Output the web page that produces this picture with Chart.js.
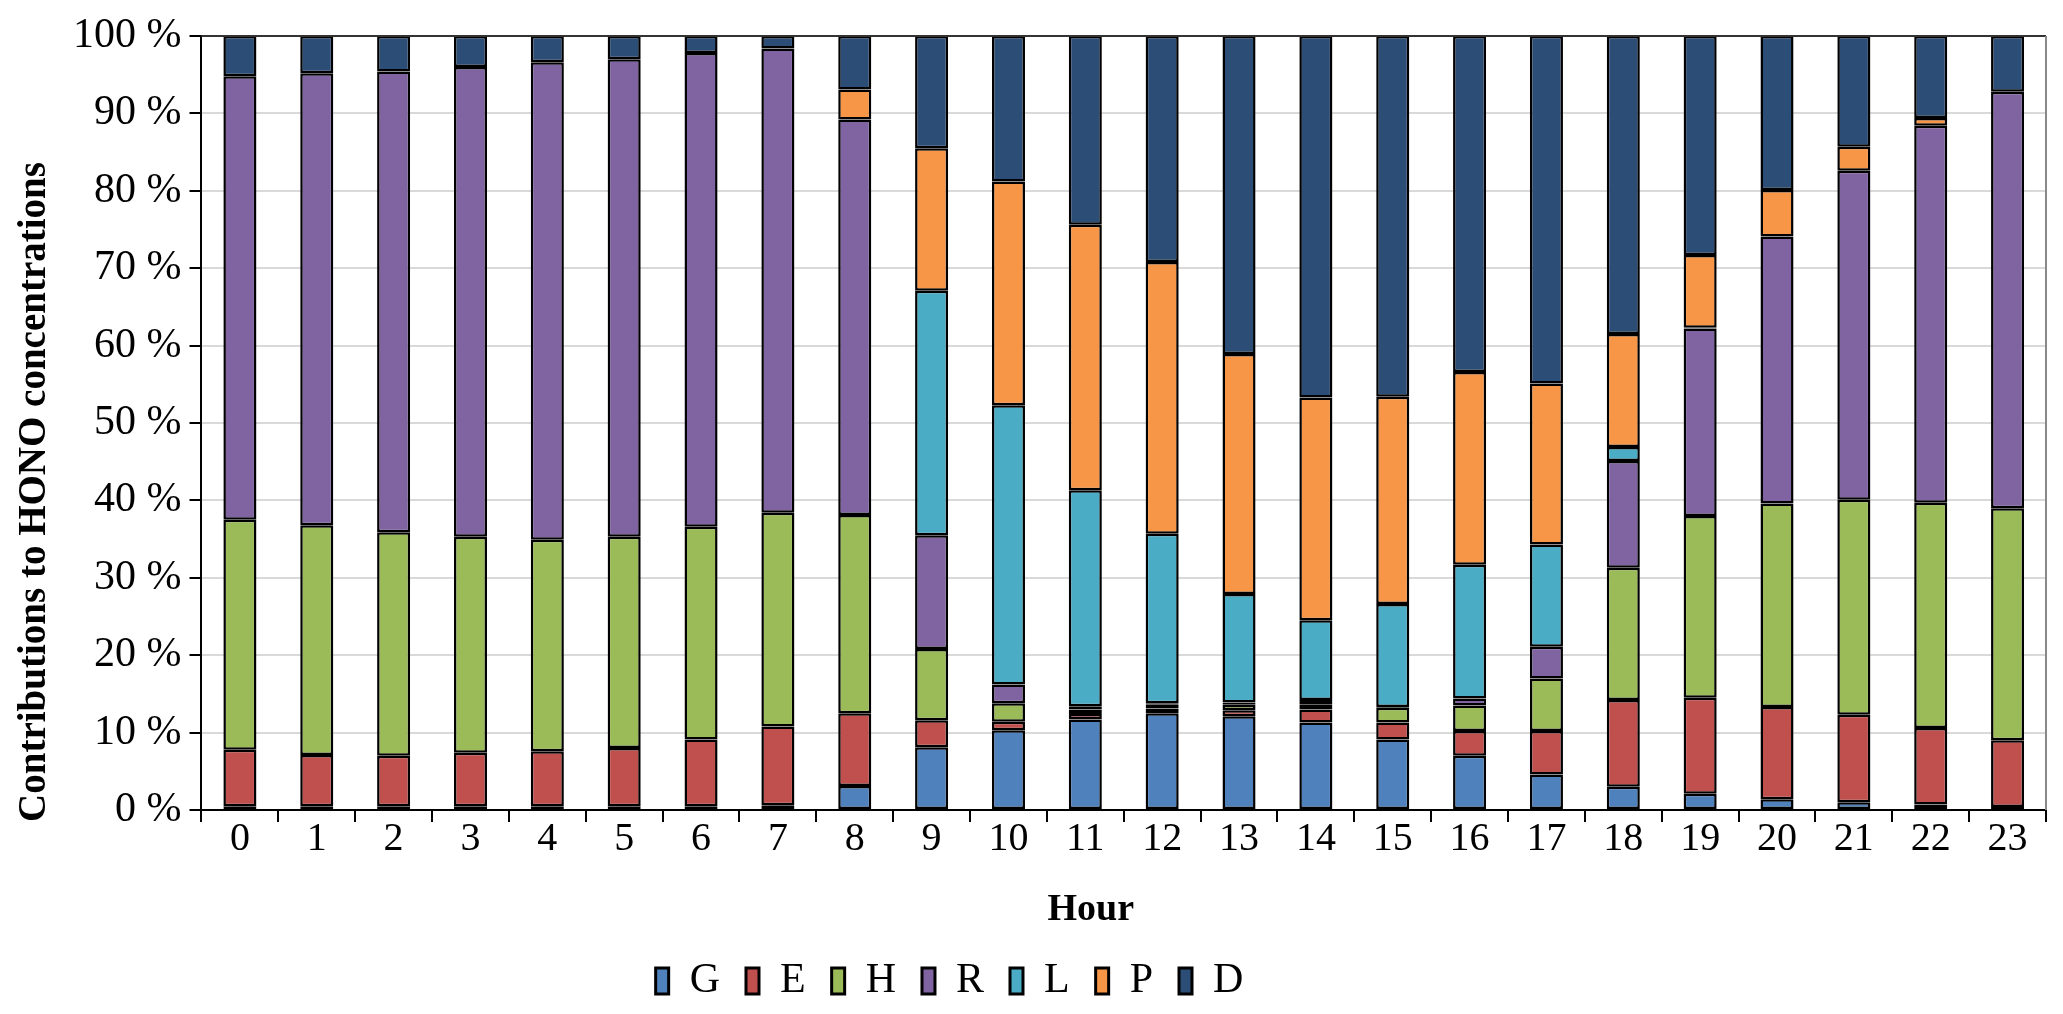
<!DOCTYPE html>
<html>
<head>
<meta charset="utf-8">
<script src="https://cdn.jsdelivr.net/npm/chart.js@4.4.1/dist/chart.umd.min.js"></script>
<style>
html,body{margin:0;padding:0;background:#fff;}
#c{display:block;}
</style>
</head>
<body>
<canvas id="c" width="2063" height="1014" style="width:2063px;height:1014px"></canvas>
<script>
const hours = ['0','1','2','3','4','5','6','7','8','9','10','11','12','13','14','15','16','17','18','19','20','21','22','23'];
const yTicks = [0,10,20,30,40,50,60,70,80,90,100];
const G = [0.5,0.5,0.5,0.5,0.5,0.5,0.5,0.6,3.1,8.1,10.3,11.7,12.5,12.1,11.3,9.1,7.0,4.6,3.0,2.1,1.4,1.0,0.7,0.4];
const E = [7.3,6.6,6.5,6.9,7.1,7.5,8.6,10.2,9.4,3.5,1.1,0.7,0.6,0.8,1.7,2.2,3.2,5.6,11.2,12.4,11.9,11.3,9.9,8.6];
const H = [29.7,29.7,28.9,27.9,27.3,27.3,27.5,27.6,25.6,9.2,2.4,0.6,0.5,0.7,0.6,1.9,3.3,6.8,17.1,23.5,26.3,27.8,29.1,30.0];
const R = [57.3,58.4,59.5,60.7,61.7,61.7,61.2,60.0,51.1,14.7,2.4,0.4,0.2,0.3,0.6,0.1,0.9,4.1,13.8,24.2,34.5,42.5,48.7,53.8];
const L = [0,0,0,0,0,0,0,0,0,31.6,36.1,27.9,21.9,14.0,10.3,13.3,17.3,13.2,1.8,0.1,0,0,0,0];
const P = [0,0,0,0,0,0,0,0,3.9,18.4,28.9,34.3,35.1,31.0,28.8,26.8,24.9,20.8,14.6,9.4,6.0,3.1,1.0,0];
const D = [5.2,4.8,4.6,4.0,3.4,3.0,2.2,1.6,6.9,14.5,18.8,24.4,29.2,41.1,46.7,46.6,43.4,44.9,38.5,28.3,19.9,14.3,10.6,7.2];

const seriesNames = ['G','E','H','R','L','P','D'];
const seriesData = [G,E,H,R,L,P,D];
const colors = ['#4F81BD','#C0504D','#9BBB59','#8064A2','#4BACC6','#F79646','#2C4D75'];
const yTitle = 'Contributions to HONO concentrations';
const xTitle = 'Hour';

const FONT = "'Liberation Serif', 'Times New Roman', serif";

const frame = {
  id: 'frame',
  afterLayout(chart) {
    const lg = chart.legend;
    if (lg) { lg.left -= 80; lg.right -= 80; }
  },
  afterDraw(chart) {
    const a = chart.chartArea, ctx = chart.ctx;
    ctx.save();
    ctx.lineWidth = 2;
    ctx.strokeStyle = '#333';
    ctx.beginPath(); ctx.moveTo(a.left, a.top); ctx.lineTo(a.right, a.top); ctx.stroke();
    ctx.strokeStyle = '#888';
    ctx.beginPath(); ctx.moveTo(a.right, a.top); ctx.lineTo(a.right, a.bottom); ctx.stroke();
    // axis titles
    ctx.fillStyle = '#000';
    ctx.textAlign = 'center';
    ctx.textBaseline = 'middle';
    ctx.font = "bold 39px " + FONT;
    const ys = chart.scales.y;
    ctx.save();
    ctx.translate(ys.left + 22, (a.top + a.bottom) / 2 + 69);
    ctx.rotate(-Math.PI / 2);
    ctx.fillText(yTitle, 0, 0);
    ctx.restore();
    const xs = chart.scales.x;
    ctx.font = "bold 38px " + FONT;
    ctx.fillText(xTitle, (a.left + a.right) / 2 - 33, xs.bottom - 24);
    ctx.restore();
  }
};

new Chart(document.getElementById('c'), {
  type: 'bar',
  data: {
    labels: hours,
    datasets: seriesNames.map((n, i) => ({
      label: n,
      data: seriesData[i],
      backgroundColor: colors[i],
      borderColor: '#000',
      borderWidth: 2.5,
      borderSkipped: false,
      barPercentage: 0.43,
      categoryPercentage: 1.0
    }))
  },
  options: {
    responsive: false,
    animation: false,
    devicePixelRatio: 1,
    layout: { padding: { top: 36, right: 17, left: 13, bottom: 2 } },
    plugins: {
      tooltip: { enabled: false },
      legend: {
        position: 'bottom',
        labels: {
          font: { family: FONT, size: 42 },
          color: '#000',
          boxWidth: 13,
          boxHeight: 26,
          padding: 26,
          generateLabels(chart) {
            return chart.data.datasets.map((ds, i) => ({
              text: ds.label,
              fillStyle: ds.backgroundColor,
              strokeStyle: '#000',
              lineWidth: 3,
              datasetIndex: i,
              fontColor: '#000'
            }));
          }
        }
      }
    },
    scales: {
      x: {
        stacked: true,
        afterFit(scale) { scale.height += 78; },
        grid: { display: true, drawOnChartArea: false, drawTicks: true, tickLength: 12, color: '#000', lineWidth: 2, offset: true },
        border: { color: '#000', width: 2 },
        ticks: { font: { family: FONT, size: 40 }, color: '#000', padding: -7 }
      },
      y: {
        stacked: true,
        min: 0,
        max: 100,
        afterFit(scale) { scale.width += 52; },
        afterBuildTicks(scale) { scale.ticks = yTicks.map(v => ({ value: v })); },
        grid: { color: '#d9d9d9', lineWidth: 2, tickColor: '#000', tickLength: 12, drawTicks: true },
        border: { color: '#000', width: 2 },
        ticks: { font: { family: FONT, size: 42 }, color: '#000', padding: 8, callback: v => v + ' %' }
      }
    }
  },
  plugins: [frame]
});
</script>
</body>
</html>
